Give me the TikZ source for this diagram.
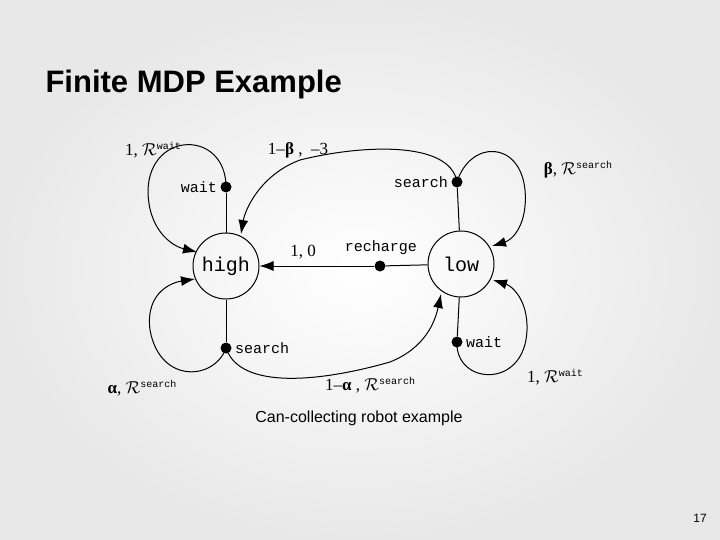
\documentclass[tikz,border=0pt]{standalone}
\usepackage{fontspec}
\setmainfont{Liberation Sans}
\setmonofont{Liberation Mono}
\newfontfamily\labfont{Liberation Serif}
\usetikzlibrary{arrows.meta}
\newcommand{\Rsup}[1]{$\mathcal{R}$\raisebox{6pt}{\ttfamily\fontsize{10}{10}\selectfont #1}}
\begin{document}
\begin{tikzpicture}[x=1pt,y=-1pt,
  st/.style={circle,draw,line width=1pt,minimum size=66pt,inner sep=0pt,font=\ttfamily\fontsize{20}{20}\selectfont},
  dot/.style={circle,fill,inner sep=0pt,minimum size=11pt},
  act/.style={font=\ttfamily\fontsize{15}{15}\selectfont},
  lab/.style={font=\labfont\fontsize{17}{17}\selectfont},
  ln/.style={line width=1pt},
  arr/.style={line width=1pt,-{Latex[length=14pt,width=10pt]}}]
\shade[inner color=white,outer color=gray!18] (0,0) rectangle (720,540);
\useasboundingbox (0,0) rectangle (720,540);
\node[anchor=west,font=\bfseries\fontsize{31}{31}\selectfont] (title) at (42,84) {Finite MDP Example};
\node[st] (high) at (226,266) {high};
\node[st] (low) at (461,264) {low};
\node[dot] (wd) at (226,187) {};
\node[dot] (sd) at (457,182) {};
\node[dot] (rd) at (380,266) {};
\node[dot] (sb) at (226,348) {};
\node[dot] (wb) at (457,342) {};
\node[act,anchor=east] (wl) at (wd.west) {wait};
\node[act,anchor=east] (sl) at (sd.west) {search};
\node[act] (rl) at (381,248) {recharge};
\node[act,anchor=west] (sbl) at (sb.east) {search};
\node[act,anchor=west] (wbl) at (wb.east) {wait};
\draw[ln] (wd) -- (high);
\draw[ln] (sd) -- (low);
\draw[ln] (sb) -- (high);
\draw[ln] (wb) -- (low);
\draw[ln] (low) -- (rd);
\draw[arr] (rd) -- (high);
\coordinate (a1) at (197,252);
\draw[arr] (wd.center) .. controls (226,130) and (150,130) .. (148,190) .. controls (148,230) and (172,246) .. (a1);
\coordinate (a2) at (241,234);
\draw[arr] (sd.center) .. controls (450,140) and (360,145) .. (300,160) .. controls (260,175) and (245,210) .. (a2);
\coordinate (a3) at (492,246);
\draw[arr] (sd.center) .. controls (470,140) and (520,140) .. (525,190) .. controls (528,225) and (512,240) .. (a3);
\coordinate (a4) at (195,279);
\draw[arr] (sb.center) .. controls (215,380) and (160,385) .. (150,330) .. controls (145,290) and (175,282) .. (a4);
\coordinate (a5) at (441,294);
\draw[arr] (sb.center) .. controls (240,390) and (320,382) .. (390,362) .. controls (425,348) and (435,322) .. (a5);
\coordinate (a6) at (493,280);
\draw[arr] (wb.center) .. controls (455,385) and (525,390) .. (527,330) .. controls (528,300) and (512,286) .. (a6);
\node[lab] (l1) at (153,150) {1,\ \Rsup{wait}};
\node[lab] (l2) at (298,150) {1–\textbf{β} ,\ \ –3};
\node[lab] (l3) at (578,170) {\textbf{β}, \Rsup{search}};
\node[lab] (l4) at (303,252) {1,\ 0};
\node[lab] (l5) at (142,388) {\textbf{α}, \Rsup{search}};
\node[lab] (l6) at (370,385) {1–\textbf{α} , \Rsup{search}};
\node[lab] (l7) at (555,377) {1,\ \Rsup{wait}};
\node[font=\fontsize{16}{16}\selectfont] (cap) at (359,418) {Can-collecting robot example};
\node[font=\fontsize{12}{12}\selectfont] (pg) at (700,518) {17};
\end{tikzpicture}
\end{document}
